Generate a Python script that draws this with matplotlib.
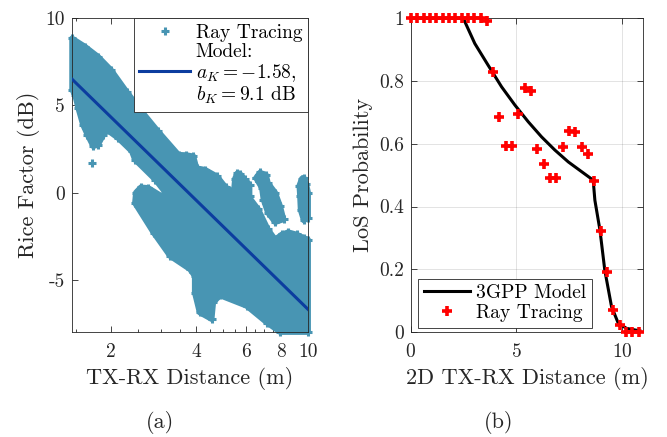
import matplotlib
matplotlib.use('Agg')
import matplotlib.pyplot as plt
from matplotlib.ticker import NullFormatter

plt.rcParams['font.family'] = 'serif'
plt.rcParams['font.serif'] = ['cmr10']
plt.rcParams['mathtext.fontset'] = 'cm'
plt.rcParams['axes.unicode_minus'] = False
plt.rcParams['axes.formatter.use_mathtext'] = True

# ---- (a) Rice factor: outline of the ray tracing cloud
# (distance in m, K in dB)
nube_d = [1.455, 1.62, 1.80, 2.00, 2.27, 2.57, 2.94, 3.47, 3.70, 3.92, 4.02, 4.31,
          4.75, 5.10, 5.45, 6.14, 6.66, 7.20, 7.64, 8.06, 8.50, 9.10, 9.63, 10.0,
          10.0, 7.96, 7.13, 6.05, 4.87, 4.61, 4.55, 4.12, 3.96, 3.96, 3.81, 3.24,
          2.83, 2.43, 2.45, 2.55, 2.71, 3.03, 3.38, 3.51, 3.19, 2.87, 2.43, 2.37,
          2.12, 1.93, 1.88, 1.80, 1.73, 1.65, 1.59, 1.53, 1.49, 1.455]
nube_k = [8.84, 8.36, 7.79, 7.03, 5.79, 4.65, 3.50, 2.17, 2.15, 2.08, 1.40, 1.31,
          0.93, 0.30, 0.05, -0.21, -0.97, -2.11, -2.69, -2.40, -2.27, -2.40, -2.59, -2.70,
          -8.0, -8.0, -7.45, -6.50, -5.90, -6.30, -7.26, -6.87, -5.73, -4.78, -4.40, -3.64,
          -2.30, -0.60, 0.00, 0.30, 0.27, -0.21, -0.69, -0.86, -0.21, 0.74, 1.89, 2.36,
          3.12, 3.60, 3.31, 2.74, 2.65, 3.31, 3.89, 4.84, 5.60, 5.90]

# the three vertical streaks sticking out of the cloud
pico1_d = [5.45, 5.50, 5.60, 5.75, 5.95, 6.20, 6.20, 5.45]
pico1_k = [0.10, 0.80, 1.10, 1.05, 0.75, 0.45, -0.20, 0.00]
pico2_d = [6.53, 6.75, 7.10, 7.20, 7.64, 7.96, 8.18, 7.64, 7.20, 6.94, 6.85, 6.53]
pico2_k = [0.84, 1.15, 1.00, 0.55, 0.00, -0.78, -1.54, -1.70, -1.16, -0.40, 0.27, 0.84]
pico3_d = [9.30, 9.50, 9.65, 9.85, 10.0, 10.0, 9.65, 9.40, 9.35]
pico3_k = [0.40, 0.80, 0.85, 0.50, 0.00, -1.45, -1.60, -1.00, -0.20]

# lone point
suelto_d = [1.71]
suelto_k = [1.70]

# fitted model, a_K = -1.58, b_K = 9.1 dB (end points)
ajuste_d = [1.455, 10.0]
ajuste_k = [6.50, -6.70]

# ---- (b) LoS probability
modelo_d = [0, 2.48, 3.03, 3.66, 4.30, 4.93, 5.56, 6.19, 6.82, 7.46, 8.09, 8.64,
            8.72, 8.96, 9.19, 9.51, 9.83, 10.22, 10.85]
modelo_p = [1, 1, 0.919, 0.850, 0.781, 0.723, 0.670, 0.622, 0.580, 0.542, 0.511, 0.484,
            0.42, 0.325, 0.197, 0.081, 0.028, 0.012, 0.004]

rt_d = [0, 0.3, 0.6, 0.9, 1.2, 1.5, 1.8, 2.1, 2.4, 2.7, 3.0, 3.3, 3.6,
        3.9, 4.2, 4.5, 4.8, 5.1, 5.4, 5.7, 6.0, 6.3, 6.6, 6.9, 7.2, 7.5, 7.8,
        8.1, 8.4, 8.7, 9.0, 9.3, 9.6, 9.9, 10.2, 10.5, 10.8]
rt_p = [1, 1, 1, 1, 1, 1, 1, 1, 1, 1, 1, 1, 0.99,
        0.829, 0.686, 0.593, 0.593, 0.693, 0.778, 0.768, 0.583, 0.534, 0.491, 0.491,
        0.590, 0.641, 0.636, 0.590, 0.567, 0.481, 0.322, 0.191, 0.070, 0.022, 0.001,
        0, 0]

azul = '#4895b3'
azul_osc = '#0c3d9f'
gris = '#262626'

fig = plt.figure(figsize=(6.67, 4.37), dpi=100)
ax1 = fig.add_axes([0.108, 0.240, 0.354, 0.7186])
ax2 = fig.add_axes([0.616, 0.240, 0.348, 0.7186])

# ---- panel (a)
for d, k in [(nube_d, nube_k), (pico1_d, pico1_k), (pico2_d, pico2_k), (pico3_d, pico3_k)]:
    ax1.fill(d, k, facecolor=azul, edgecolor=azul, lw=4, joinstyle='round', clip_on=False, zorder=2)
    ax1.plot(d, k, '+', color=azul, ms=6, mew=2.2, clip_on=False, zorder=2)
h_rt, = ax1.plot(suelto_d, suelto_k, '+', color=azul, ms=6, mew=2.2, clip_on=False, zorder=2)
h_fit, = ax1.plot(ajuste_d, ajuste_k, color=azul_osc, lw=2.2, zorder=3)

ax1.set_xscale('log')
ax1.set_xlim(1.455, 10)
ax1.set_ylim(-8, 10)
ax1.set_xticks([2, 4, 6, 8, 10], labels=['2', '4', '6', '8', '10'])
ax1.set_xticks([1.5, 2.5, 3, 3.5, 4.5, 5, 5.5, 6.5, 7, 7.5, 8.5, 9, 9.5], minor=True)
ax1.xaxis.set_minor_formatter(NullFormatter())
ax1.set_yticks([-5, 0, 5, 10], labels=['-5', '0', '5', '10'])
ax1.set_xlabel('TX-RX Distance (m)', fontsize=16, color=gris)
ax1.set_ylabel('Rice Factor (dB)', fontsize=16, color=gris)

vacio = plt.Line2D([], [], linestyle='none')
leg1 = ax1.legend([h_rt, vacio, h_fit, vacio],
                  ['Ray Tracing', 'Model:', r'$a_K = -1.58$,', r'$b_K = 9.1$ dB'],
                  loc='upper right', borderaxespad=0, fancybox=False, framealpha=1,
                  edgecolor=gris, fontsize=14, handlelength=2.6, handletextpad=0.3,
                  labelspacing=0.05, borderpad=0.3)
leg1.get_frame().set_linewidth(0.6)

# ---- panel (b)
h_mod, = ax2.plot(modelo_d, modelo_p, color='black', lw=2.2, zorder=3)
h_rt2, = ax2.plot(rt_d, rt_p, '+', color='#ff0000', ms=7, mew=2.6, clip_on=False, zorder=4)
ax2.set_xlim(0, 11)
ax2.set_ylim(0, 1)
ax2.set_xticks([0, 5, 10])
ax2.set_yticks([0, 0.2, 0.4, 0.6, 0.8, 1], labels=['0', '0.2', '0.4', '0.6', '0.8', '1'])
ax2.grid(True, color=gris, alpha=0.15, lw=0.6)
ax2.set_axisbelow(True)
ax2.set_xlabel('2D TX-RX Distance (m)', fontsize=16, color=gris)
ax2.set_ylabel('LoS Probability', fontsize=16, color=gris)
leg2 = ax2.legend([h_mod, h_rt2], ['3GPP Model', 'Ray Tracing'], loc='lower left',
                  bbox_to_anchor=(0.03, 0.013), borderaxespad=0, fancybox=False,
                  framealpha=1, edgecolor=gris, fontsize=14, handlelength=2.4,
                  handletextpad=0.3, labelspacing=0.1, borderpad=0.3)
leg2.get_frame().set_linewidth(0.6)

for ax in (ax1, ax2):
    ax.tick_params(which='both', direction='in', top=True, right=True, width=0.6,
                   colors=gris, labelsize=14)
    ax.tick_params(which='major', length=4)
    ax.tick_params(which='minor', length=2)
    ax.tick_params(axis='x', pad=8)
    ax.tick_params(axis='y', pad=5)
    for s in ax.spines.values():
        s.set_linewidth(0.6)
        s.set_color(gris)

fig.text(0.240, 0.034, '(a)', fontsize=16, ha='center', va='center', color=gris)
fig.text(0.748, 0.034, '(b)', fontsize=16, ha='center', va='center', color=gris)

fig.savefig('out.png', dpi=100)
